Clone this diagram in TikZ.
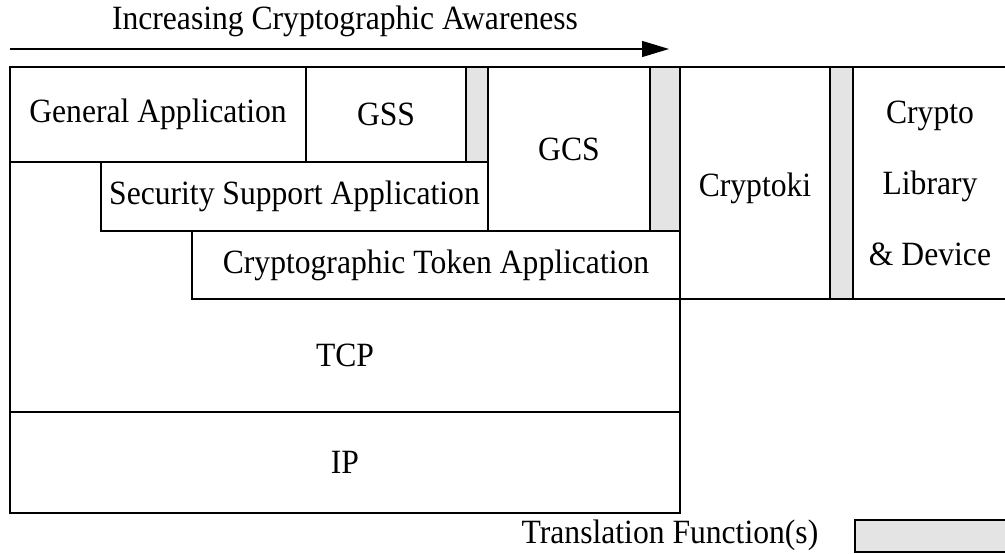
\documentclass[tikz,border=0pt]{standalone}
\usepackage{fontspec}
\setmainfont{Liberation Serif}[FakeStretch=0.93]
\usetikzlibrary{arrows.meta}
\definecolor{tfgray}{HTML}{E4E4E4}
\begin{document}
\begin{tikzpicture}[x=1pt,y=-1pt,
  txt/.style={font=\fontsize{34}{40}\selectfont},
  box/.style={draw=black, line width=2.3pt, inner sep=0pt, outer sep=0pt,
              anchor=north west, txt},
  tfbox/.style={box, fill=tfgray},
  frame/.style={draw=black, line width=2.3pt}]
\useasboundingbox (0,0) rectangle (1005,554);
% title and arrow
\node[txt, inner sep=0pt] (title) at (345,21) {Increasing Cryptographic Awareness};
\coordinate (arrL) at (10,49);
\coordinate (arrR) at (669,49);
\draw[line width=1.3pt, -{Triangle[length=27pt,width=16pt]}] (arrL) -- (arrR);
% lower layers
\node[box, draw=none, minimum width=670pt, minimum height=113pt] (tcp) at (10,299) {TCP};
\node[box, minimum width=670pt, minimum height=101pt] (ip) at (10,412) {IP};
% application layers
\node[box, minimum width=296pt, minimum height=95pt] (ga) at (10,67) {General Application};
\node[box, minimum width=160pt, minimum height=95pt] (gss) at (306,67) {GSS};
\node[tfbox, minimum width=22pt, minimum height=95pt] (tf1) at (466,67) {};
\node[box, minimum width=162pt, minimum height=164pt] (gcs) at (488,67) {GCS};
\node[tfbox, minimum width=30pt, minimum height=164pt] (tf2) at (650,67) {};
\node[box, minimum width=387pt, minimum height=69pt] (ssa) at (101,162) {Security Support Application};
\node[box, minimum width=488pt, minimum height=68pt] (cta) at (192,231) {Cryptographic Token Application};
\node[box, minimum width=150pt, minimum height=232pt, text height=26pt, text depth=0pt] (ck) at (680,67) {Cryptoki};
\node[tfbox, minimum width=23pt, minimum height=232pt] (tf3) at (830,67) {};
\node[box, minimum width=154pt, minimum height=232pt, align=center,
      font=\fontsize{34}{71}\selectfont] (cld) at (853,67) {Crypto\\Library\\\& Device};
% TCP outline
\draw[frame] (ga.south west) -- (ip.north west) -- (ip.north east) -- (cta.south east);
% legend
\node[txt, inner sep=0pt] (legtxt) at (670,535) {Translation Function(s)};
\node[tfbox, minimum width=152pt, minimum height=32pt] (legbox) at (855,520) {};
\end{tikzpicture}
\end{document}
